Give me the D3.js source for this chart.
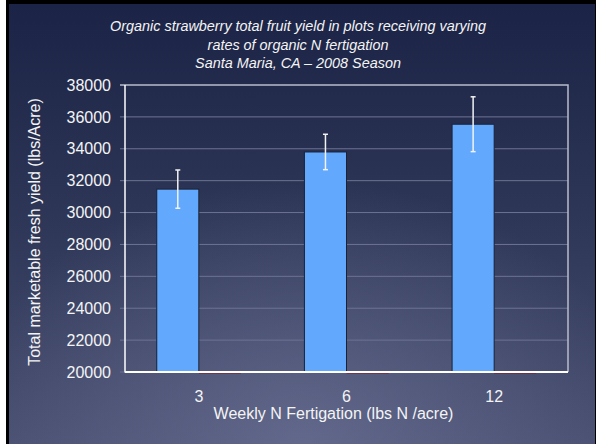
<!DOCTYPE html>
<html><head><meta charset="utf-8">
<script src="https://cdn.jsdelivr.net/npm/d3@7"></script>
<style>html,body{margin:0;padding:0;background:#fff;}svg{display:block;font-family:"Liberation Sans",Arial,sans-serif;}</style>
</head><body>
<script>
const categories = ["3", "6", "12"];
const seriesNames = ["Yield", "Other"];
const yieldValues = [31470, 33800, 35540];
const yieldErrors = [1200, 1110, 1720];
const otherValues = [20000, 20000, 20000];
const yTicks = [20000, 22000, 24000, 26000, 28000, 30000, 32000, 34000, 36000, 38000];
const titleLines = ["Organic strawberry total fruit yield in plots receiving varying", "rates of organic N fertigation", "Santa Maria, CA \u2013 2008 Season"];

(function () {
const W = 596, H = 444;
const svg = d3.select("body").append("svg").attr("width", W).attr("height", H);
const defs = svg.append("defs");
const lg = defs.append("linearGradient").attr("id","bg").attr("x1",0).attr("y1",0).attr("x2",0).attr("y2",1);
lg.append("stop").attr("offset","0").attr("stop-color","#1b2346");
lg.append("stop").attr("offset","0.5").attr("stop-color","#2f3758");
lg.append("stop").attr("offset","1").attr("stop-color","#474e70");
const rg = defs.append("radialGradient").attr("id","glow").attr("cx","0.5").attr("cy","1").attr("r","0.6");
rg.append("stop").attr("offset","0").attr("stop-color","#6a7194").attr("stop-opacity",0.75);
rg.append("stop").attr("offset","1").attr("stop-color","#6a7194").attr("stop-opacity",0);

svg.append("rect").attr("x",0).attr("y",0).attr("width",W).attr("height",H).attr("fill","#000");
svg.append("rect").attr("x",0).attr("y",0).attr("width",6).attr("height",H).attr("fill","#fff");
svg.append("rect").attr("x",9).attr("y",4).attr("width",W-10).attr("height",H-4).attr("fill","url(#bg)");
svg.append("rect").attr("x",9).attr("y",4).attr("width",W-10).attr("height",H-4).attr("fill","url(#glow)");

const pLeft = 125, pRight = 568, pTop = 85, pBottom = 372;
const x = d3.scaleBand().domain(categories).range([pLeft, pRight]).paddingInner(0.43).paddingOuter(0.215);
const xs = d3.scaleBand().domain(seriesNames).range([0, x.bandwidth()]);
const y = d3.scaleLinear().domain([20000, 38000]).range([pBottom, pTop]);

// gridlines
const grid = svg.append("g");
grid.selectAll("line.g").data(yTicks.slice(1, -1)).join("line").attr("class","g")
  .attr("x1", pLeft - 5).attr("x2", pRight).attr("y1", d => y(d)).attr("y2", d => y(d))
  .attr("stroke", "#6d7392").attr("stroke-width", 1);
grid.selectAll("line.t").data([20000]).join("line").attr("class","t")
  .attr("x1", pLeft - 5).attr("x2", pLeft).attr("y1", d => y(d)).attr("y2", d => y(d))
  .attr("stroke", "#6d7392");

// plot border (top, right)
svg.append("path").attr("d", `M${pLeft - 5},${pTop}H${pRight}V${pBottom}`).attr("fill","none")
  .attr("stroke","#b8bccb").attr("stroke-width",1.5);

// bars
const gBars = svg.append("g");
gBars.selectAll("rect.s1").data(categories).join("rect").attr("class","s1")
  .attr("x", (d) => x(d) + xs("Yield"))
  .attr("y", (d, i) => y(yieldValues[i]))
  .attr("width", xs.bandwidth())
  .attr("height", (d, i) => y(20000) - y(yieldValues[i]))
  .attr("fill", "#62a8fd").attr("stroke", "#1a2236").attr("stroke-width", 1);
gBars.selectAll("rect.s2").data(categories).join("rect").attr("class","s2")
  .attr("x", (d) => x(d) + xs("Other"))
  .attr("y", (d, i) => y(otherValues[i]))
  .attr("width", xs.bandwidth())
  .attr("height", 1.5)
  .attr("fill", "#8b1418");

// error bars
const eb = svg.append("g").attr("stroke", "#f2f2f2").attr("stroke-width", 1.5);
categories.forEach((c, i) => {
  const cx = x(c) + xs("Yield") + xs.bandwidth() / 2;
  const y1 = y(yieldValues[i] + yieldErrors[i]), y2 = y(yieldValues[i] - yieldErrors[i]);
  eb.append("line").attr("x1", cx).attr("x2", cx).attr("y1", y1).attr("y2", y2);
  eb.append("line").attr("x1", cx - 2.5).attr("x2", cx + 2.5).attr("y1", y1).attr("y2", y1);
  eb.append("line").attr("x1", cx - 2.5).attr("x2", cx + 2.5).attr("y1", y2).attr("y2", y2);
});

// axes lines
svg.append("line").attr("x1", pLeft).attr("x2", pLeft).attr("y1", pTop).attr("y2", pBottom + 0.5)
  .attr("stroke", "#ffffff").attr("stroke-width", 1.5);
svg.append("line").attr("x1", pLeft).attr("x2", pRight).attr("y1", pBottom).attr("y2", pBottom)
  .attr("stroke", "#ffffff").attr("stroke-width", 2);

// y tick labels
const yAxis = svg.append("g").attr("transform", `translate(${pLeft},0)`)
  .call(d3.axisLeft(y).tickValues(yTicks).tickSize(0).tickPadding(14).tickFormat(d3.format("d")));
yAxis.select(".domain").remove();
yAxis.selectAll("text").attr("fill", "#f4f4f4").attr("font-size", "16px")
  .attr("font-family", '"Liberation Sans",Arial,sans-serif');

// x tick labels
const xAxis = svg.append("g").attr("transform", `translate(0,${pBottom})`)
  .call(d3.axisBottom(x).tickSize(0).tickPadding(19));
xAxis.select(".domain").remove();
xAxis.selectAll("text").attr("fill", "#f4f4f4").attr("font-size", "16px")
  .attr("font-family", '"Liberation Sans",Arial,sans-serif');

// axis titles
svg.append("text").attr("x", (pLeft + pRight) / 2 - 13).attr("y", 419).attr("text-anchor", "middle")
  .attr("fill", "#f4f4f4").attr("font-size", "16px").text("Weekly N Fertigation (lbs N /acre)");
svg.append("text").attr("transform", "translate(40,232) rotate(-90)").attr("text-anchor", "middle")
  .attr("fill", "#f4f4f4").attr("font-size", "16px").text("Total marketable fresh yield (lbs/Acre)");

// title
svg.append("g").selectAll("text").data(titleLines).join("text")
  .attr("x", 298).attr("y", (d, i) => 31 + i * 18.5).attr("text-anchor", "middle")
  .attr("fill", "#f4f4f4").attr("font-size", "14.4px").attr("font-style", "italic").text(d => d);
})();
</script>
</body></html>
